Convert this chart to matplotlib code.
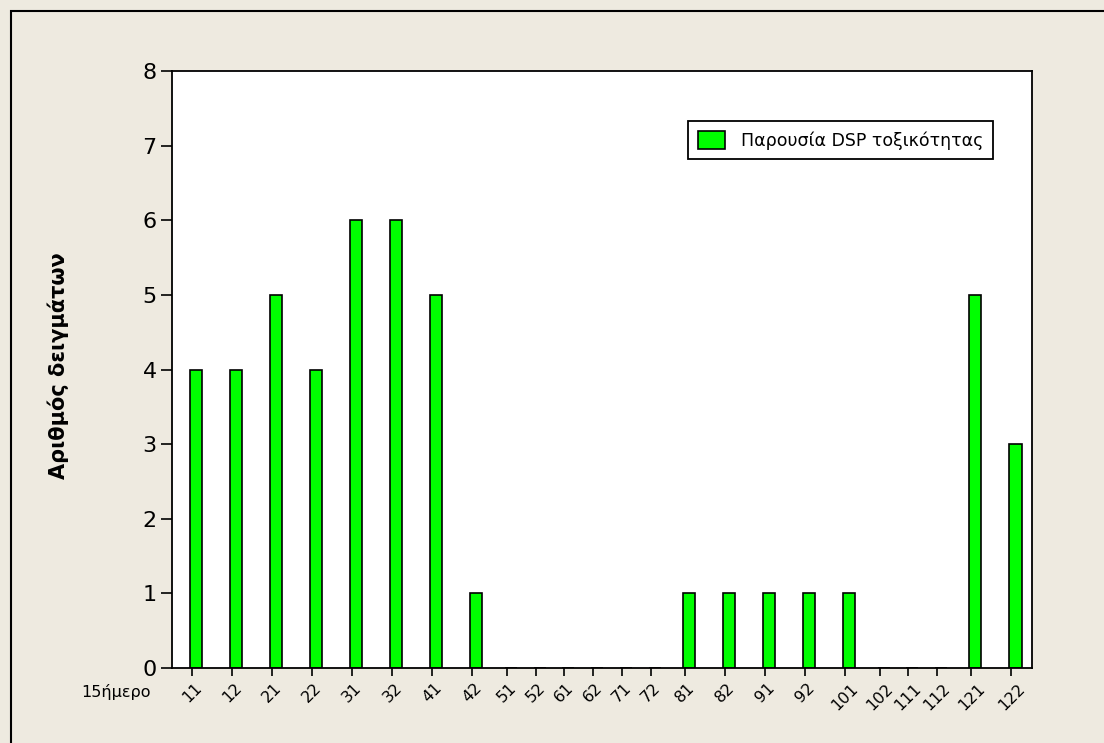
import numpy as np
import matplotlib
matplotlib.use('Agg')
import matplotlib.pyplot as plt
from matplotlib.patches import Rectangle

plt.rcParams['font.family'] = ['DejaVu Sans']

# Samples per fortnight
periods = ['11', '12', '21', '22', '31', '32', '41', '42', '51', '52', '61', '62',
           '71', '72', '81', '82', '91', '92', '101', '102', '111', '112', '121', '122']
counts = [4, 4, 5, 4, 6, 6, 5, 1, 0, 0, 0, 0,
          0, 0, 1, 1, 1, 1, 1, 0, 0, 0, 5, 3]
series_label = 'Παρουσία DSP τοξικότητας'
y_label = 'Αριθμός δειγμάτων'
x_label = '15ήμερο'

W, H = 1104, 743
fig = plt.figure(figsize=(W / 100, H / 100), dpi=100)
fig.patch.set_facecolor('#eeeae0')

# outer frame (only top/left edges fall inside the image)
fig.add_artist(Rectangle((11 / W, -0.1), 1.2, 1 - 11 / H + 0.1, transform=fig.transFigure,
                         fill=False, edgecolor='black', linewidth=1.5))

ax = fig.add_axes([172 / W, (H - 668) / H, (1031.5 - 172) / W, (668 - 71) / H])
ax.set_facecolor('white')

# categories holding a bar get a wider slot than empty ones
counts_arr = np.array(counts)
slot = np.where(counts_arr > 0, 1.394, 1.0)
centers = np.cumsum(slot) - slot / 2

ax.bar(centers - 0.07, counts_arr, width=0.42, align='edge', color='#00ff00',
       edgecolor='black', linewidth=1.2, label=series_label, zorder=2)

ax.set_xlim(0, slot.sum())
ax.set_ylim(0, 8)
ax.set_yticks(range(0, 9))
ax.set_xticks(centers)
ax.set_xticklabels(periods, rotation=45, ha='center', va='top', fontsize=11.5)
ax.tick_params(axis='y', labelsize=16, length=8, width=1.2, pad=3)
ax.tick_params(axis='x', length=6, width=1.2, pad=3)
for s in ax.spines.values():
    s.set_linewidth(1.3)

fig.text(151 / W, 1 - 692 / H, x_label, ha='right', va='center', fontsize=11.5)
fig.text(58 / W, 1 - 366 / H, y_label, rotation=90, ha='center', va='center',
         fontsize=15, fontweight='bold')

leg = ax.legend(loc='upper left', bbox_to_anchor=((688 - 172) / (1031.5 - 172), (668 - 121) / (668 - 71)),
                fontsize=12.5, frameon=True, fancybox=False, framealpha=1,
                handlelength=1.6, handleheight=1.3, borderpad=0.55, handletextpad=0.9,
                borderaxespad=0)
leg.get_frame().set_edgecolor('black')
leg.get_frame().set_linewidth(1.3)

fig.savefig('out.png', dpi=100, facecolor=fig.get_facecolor())
